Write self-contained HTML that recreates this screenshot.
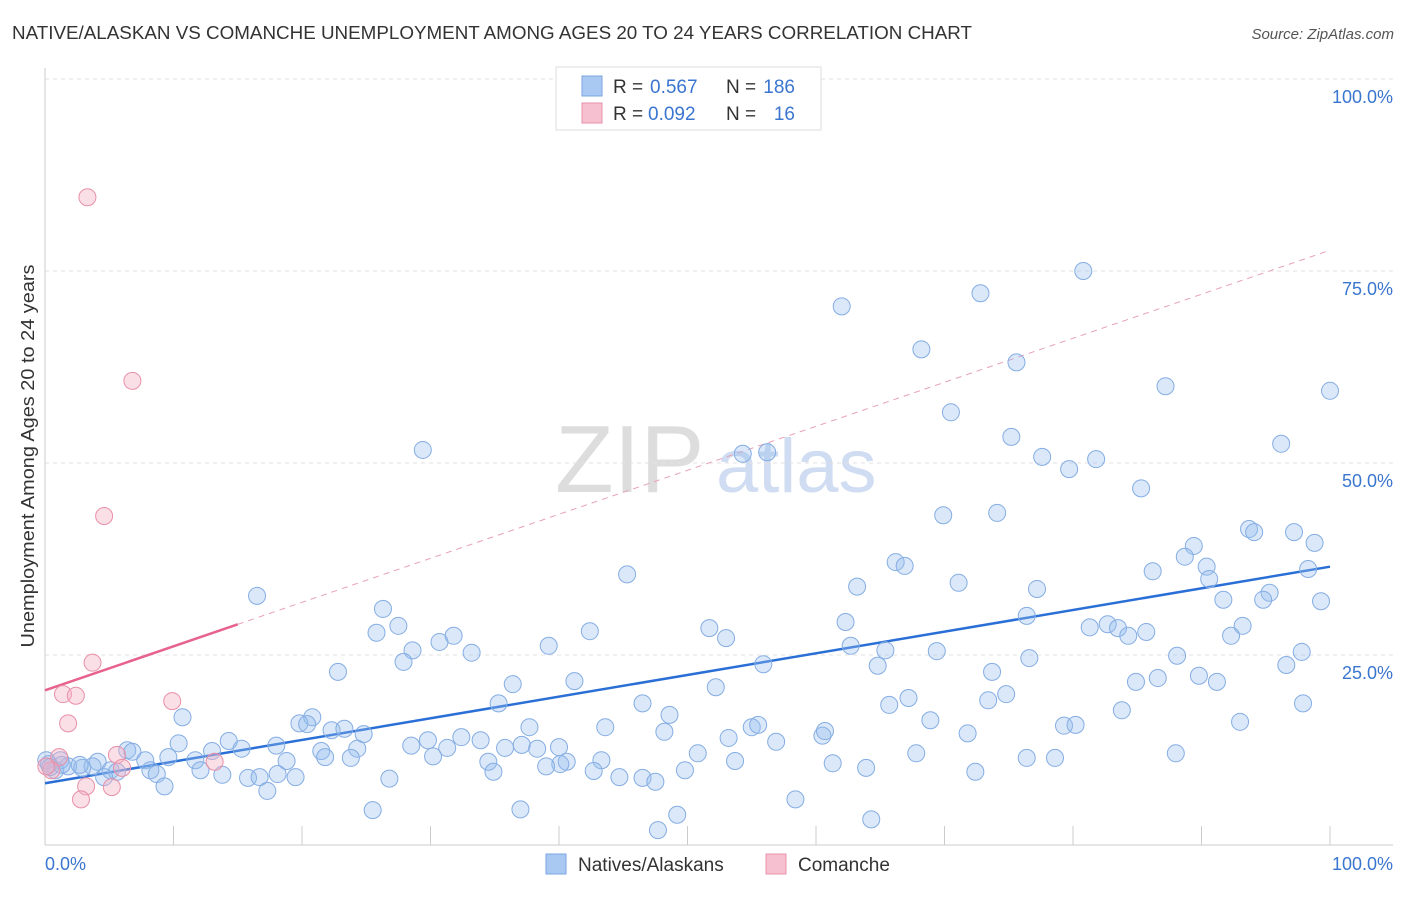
<!DOCTYPE html>
<html><head><meta charset="utf-8"><style>
body{margin:0;background:#fff;font-family:"Liberation Sans",sans-serif;}
svg text{font-family:"Liberation Sans",sans-serif;}
</style></head><body>
<svg width="1406" height="892" xmlns="http://www.w3.org/2000/svg">
<text x="12" y="39" font-size="18" fill="#333" textLength="960" lengthAdjust="spacingAndGlyphs">NATIVE/ALASKAN VS COMANCHE UNEMPLOYMENT AMONG AGES 20 TO 24 YEARS CORRELATION CHART</text>
<text x="1394" y="39" font-size="15" fill="#555" font-style="italic" text-anchor="end">Source: ZipAtlas.com</text>
<g>
<text x="555" y="492" font-size="96" fill="#ddd" font-family="Liberation Serif">ZIP</text>
<text x="716" y="492" font-size="76" fill="#cfdcf2">atlas</text>
</g>
<g id="grid"></g>
<g id="axes"></g>
<g id="trend"></g>
<g id="pts"></g>
<g>
<rect x="556" y="67" width="265" height="63" fill="#fff" stroke="#ddd"/>
<rect x="582" y="76" width="20" height="20" fill="#a9c8f2" stroke="#7aa6e0"/>
<text x="613" y="93" font-size="19" fill="#333">R =</text>
<text x="650" y="93" font-size="19" fill="#3a76d0">0.567</text>
<text x="726" y="93" font-size="19" fill="#333">N =</text>
<text x="795" y="93" font-size="19" fill="#3a76d0" text-anchor="end">186</text>
<rect x="582" y="103" width="20" height="20" fill="#f7c0d0" stroke="#e890a8"/>
<text x="613" y="120" font-size="19" fill="#333">R =</text>
<text x="648" y="120" font-size="19" fill="#3a76d0">0.092</text>
<text x="726" y="120" font-size="19" fill="#333">N =</text>
<text x="795" y="120" font-size="19" fill="#3a76d0" text-anchor="end">16</text>
</g>
<g>
<rect x="546" y="854" width="20" height="20" fill="#a9c8f2" stroke="#7aa6e0"/>
<text x="578" y="871" font-size="19" fill="#333">Natives/Alaskans</text>
<rect x="766" y="854" width="20" height="20" fill="#f7c0d0" stroke="#e890a8"/>
<text x="798" y="871" font-size="19" fill="#333">Comanche</text>
</g>
<text transform="translate(34,456) rotate(-90)" font-size="18" fill="#333" text-anchor="middle" textLength="383" lengthAdjust="spacingAndGlyphs">Unemployment Among Ages 20 to 24 years</text>
</svg>
<script>
const yTicks=[100,75,50,25];
const yTickLabels=["100.0%","75.0%","50.0%","25.0%"];
const xTickLabels=["0.0%","100.0%"];
const blueX=[80.8,62.0,72.8,68.2,75.6,100,87.2,70.5,29.4,54.3,56.2,75.2,77.6,79.7,81.8,96.2,85.3,69.9,74.1,93.7,94.1,97.2,98.8,89.4,88.7,86.2,90.4,90.6,66.2,66.9,63.2,71.1,77.2,45.3,98.3,95.3,94.8,91.7,99.3,76.4,26.3,16.5,27.5,25.8,28.6,30.7,31.8,33.2,39.2,42.4,51.7,53.0,62.3,62.7,65.4,64.8,69.4,81.3,82.7,83.5,84.3,85.7,93.2,92.3,76.6,88.1,97.8,96.6,27.9,22.8,36.4,41.2,52.2,55.9,73.7,86.6,84.9,89.8,91.2,74.8,73.4,67.2,65.7,46.5,35.3,97.9,83.8,10.7,19.8,20.8,20.4,22.3,23.3,24.8,37.7,43.6,48.6,48.2,55.0,55.5,60.5,60.7,68.9,71.8,79.3,80.2,93.0,14.3,13.0,15.3,10.4,6.4,6.8,18.0,21.5,24.3,28.5,29.8,31.3,32.4,33.9,35.8,37.1,38.3,40.0,40.6,43.3,40.1,34.5,30.2,23.8,21.8,18.8,11.7,9.6,7.8,4.1,3.7,1.2,1.8,2.9,5.1,5.6,8.2,8.7,12.1,13.8,15.8,16.7,18.1,19.5,26.8,34.9,39.0,42.7,44.7,46.5,47.5,49.8,50.8,53.2,53.7,56.9,61.3,63.9,67.8,72.4,78.6,88.0,0.3,0.1,0.8,0.4,1.3,2.7,4.6,9.3,17.3,25.5,37.0,47.7,49.2,58.4,64.3,76.4];
const blueY=[75.0,70.4,72.1,64.8,63.1,59.4,60.0,56.6,51.7,51.2,51.4,53.4,50.8,49.2,50.5,52.5,46.7,43.2,43.5,41.4,41.0,41.0,39.6,39.2,37.8,35.9,36.5,34.9,37.1,36.6,33.9,34.4,33.6,35.5,36.2,33.1,32.2,32.2,32.0,30.1,31.0,32.7,28.8,27.9,25.6,26.7,27.5,25.3,26.2,28.1,28.5,27.2,29.3,26.2,25.6,23.6,25.5,28.6,29.0,28.5,27.5,28.0,28.8,27.5,24.6,24.9,25.4,23.7,24.1,22.8,21.2,21.6,20.8,23.8,22.8,22.0,21.5,22.3,21.5,19.9,19.1,19.4,18.5,18.7,18.7,18.7,17.8,16.9,16.1,16.9,16.0,15.2,15.4,14.7,15.6,15.6,17.2,15.0,15.6,15.9,14.5,15.1,16.5,14.8,15.8,15.9,16.3,13.8,12.5,12.8,13.5,12.6,12.4,13.2,12.5,12.8,13.2,13.9,12.9,14.3,13.9,12.9,13.3,12.8,13.0,11.1,11.3,10.8,11.1,11.8,11.6,11.7,11.2,11.3,11.7,11.3,11.1,10.5,11.3,10.5,10.3,10.0,9.8,10.0,9.5,10.0,9.4,9.0,9.1,9.5,9.1,8.9,9.8,10.5,9.9,9.1,9.0,8.5,10.0,12.2,14.2,11.2,13.7,10.9,10.3,12.2,9.8,11.6,12.2,10.8,11.3,10.0,10.4,10.7,10.7,9.1,7.9,7.3,4.8,4.9,2.2,4.2,6.2,3.6,11.6];
const pinkX=[3.3,6.8,4.6,3.7,1.4,2.4,9.9,1.8,13.2,5.6,1.1,0.5,0.1,6.0,5.2,3.2,2.8];
const pinkY=[84.6,60.7,43.1,24.0,19.9,19.7,19.0,16.1,11.1,12.0,11.7,10.0,10.5,10.3,7.8,7.9,6.2];
const blueTrend=[8.3,36.5];
const pinkTrend=[20.4,77.7];
const pinkSolidEnd=15;

const NS="http://www.w3.org/2000/svg";
const X=v=>45+v*12.85, Y=v=>847-v*7.68;
function mk(t,a,p){const e=document.createElementNS(NS,t);for(const k in a)e.setAttribute(k,a[k]);p.appendChild(e);return e;}
const grid=document.getElementById('grid'),axes=document.getElementById('axes'),trend=document.getElementById('trend'),pts=document.getElementById('pts');
yTicks.forEach((t,i)=>{
 const l=mk('line',{x1:45,x2:1393,y1:Y(t),y2:Y(t),stroke:'#e2e2e2','stroke-dasharray':'4,4'},grid);
 
 
 const tx=mk('text',{x:1393,y:Y(t)+24,'font-size':18,fill:'#3a76d0','text-anchor':'end'},axes);
 tx.textContent=yTickLabels[i];
 
 
});
let a=mk('line',{x1:45,x2:45,y1:68,y2:845,stroke:'#ccc'},axes);


a=mk('line',{x1:45,x2:1393,y1:845,y2:845,stroke:'#ccc'},axes);


for(let i=1;i<=10;i++){const t=mk('line',{x1:X(i*10),x2:X(i*10),y1:826,y2:845,stroke:'#ccc'},axes);
 
 }
[[0,'start',45],[100,'end',1393]].forEach((d,i)=>{const t=mk('text',{x:d[2],y:870,'font-size':18,fill:'#3a76d0','text-anchor':d[1]},axes);t.textContent=xTickLabels[i];
 
 });
let tl=mk('line',{x1:X(0),y1:Y(blueTrend[0]),x2:X(100),y2:Y(blueTrend[1]),stroke:'#2a6fd6','stroke-width':2.5},trend);


const pAt=v=>pinkTrend[0]+(pinkTrend[1]-pinkTrend[0])*v/100;
tl=mk('line',{x1:X(pinkSolidEnd),y1:Y(pAt(pinkSolidEnd)),x2:X(100),y2:Y(pinkTrend[1]),stroke:'#e8a0b8','stroke-width':1,'stroke-dasharray':'6,5'},trend);


tl=mk('line',{x1:X(0),y1:Y(pinkTrend[0]),x2:X(pinkSolidEnd),y2:Y(pAt(pinkSolidEnd)),stroke:'#e8628e','stroke-width':2.5},trend);


blueX.forEach((x,i)=>{const c=mk('circle',{cx:X(x),cy:Y(blueY[i]),r:8.5,fill:'rgba(150,188,238,0.35)',stroke:'#85ade3','stroke-width':1},pts);
 
 });
pinkX.forEach((x,i)=>{const c=mk('circle',{cx:X(x),cy:Y(pinkY[i]),r:8.5,fill:'rgba(245,175,195,0.4)',stroke:'#e890a8','stroke-width':1},pts);
 
 });
</script>
</body></html>
